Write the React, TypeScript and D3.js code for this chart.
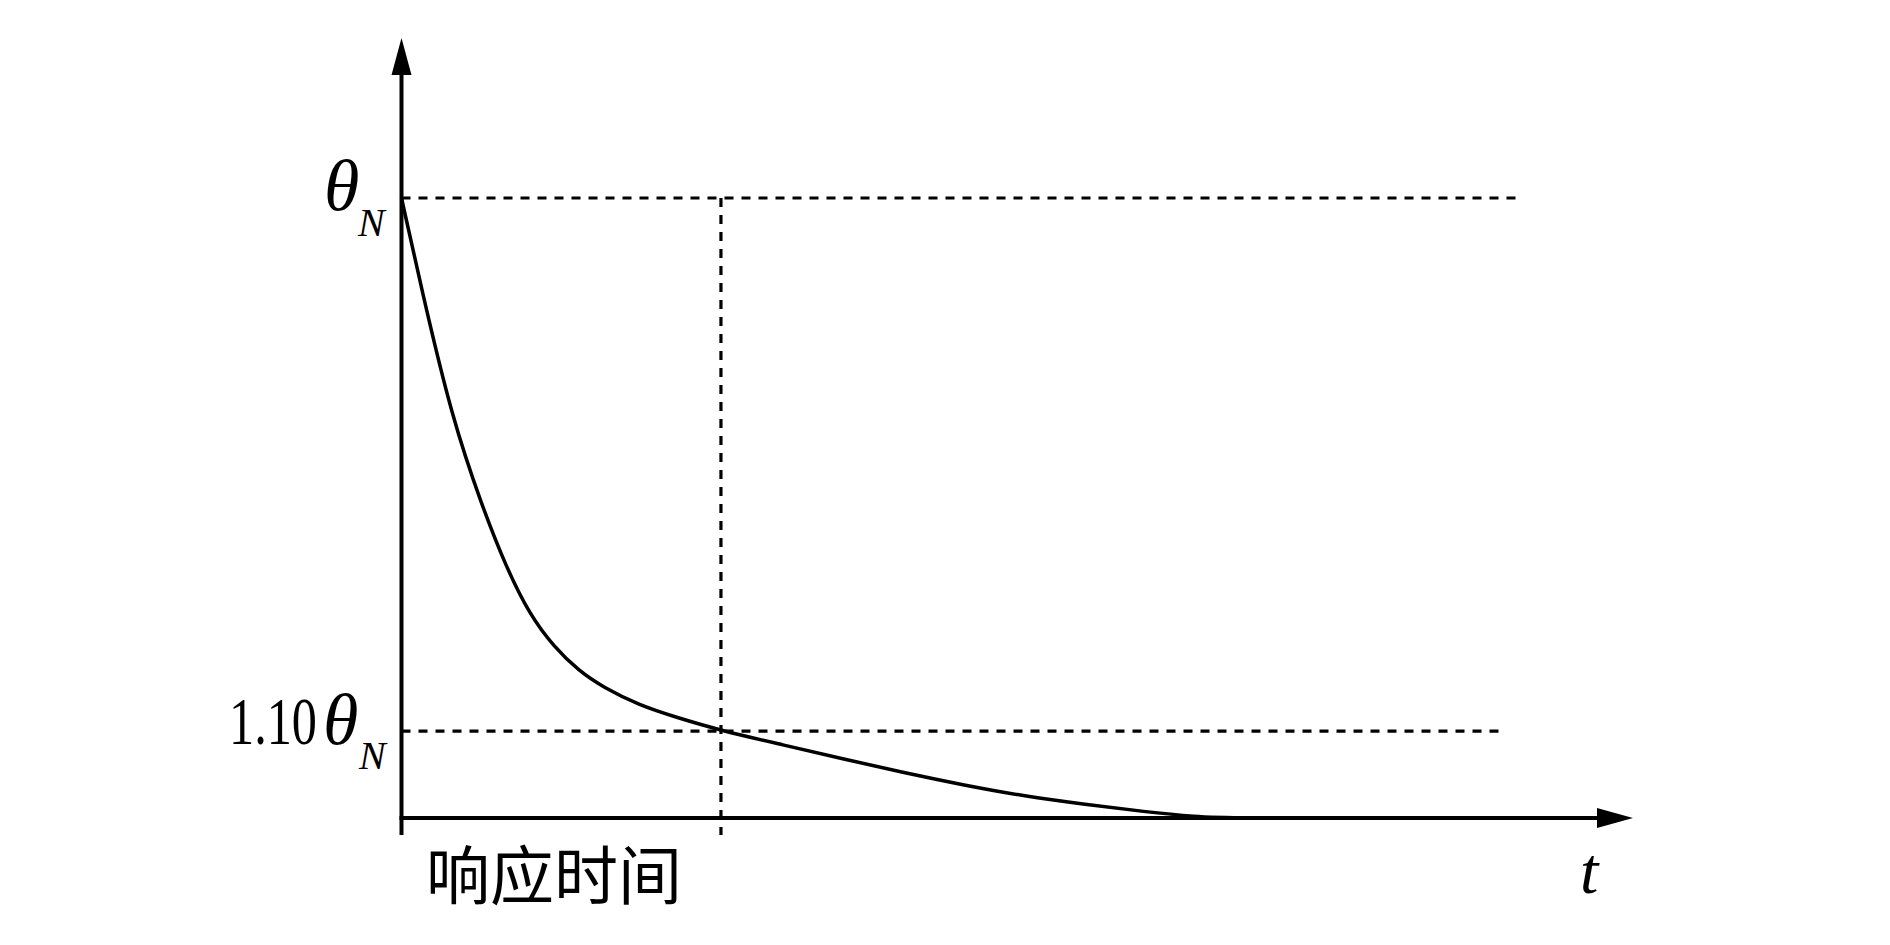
import * as d3 from 'd3';

// curve: time (arbitrary units) vs. level (0 = axis, 1 = θN line)
const curveT = [0, 1.66, 4.1, 6.54, 8.49, 10.43, 12.38, 14.41, 16.36, 19.29, 22.21, 25.94, 30.98, 35.93, 40.8, 45.68, 50.63, 55.5, 60.37, 64.5, 67.5, 80, 94.9];
const curveV = [1.0, 0.85, 0.645, 0.503, 0.405, 0.327, 0.276, 0.237, 0.211, 0.182, 0.163, 0.141, 0.118, 0.095, 0.073, 0.053, 0.035, 0.022, 0.01, 0.002, 0, 0, 0];

const levelNames = ['θN', '1.10θN'];
const levelValues = [1.0, 0.14];
const levelEnds = [90.6, 89.6];
const responseTime = 25.94;

const W = 1890;
const H = 945;
const serif = '"Liberation Serif", "Times New Roman", serif';

export default function App() {
  const x = d3.scaleLinear().domain([0, 100]).range([401.5, 1633]);
  const y = d3.scaleLinear().domain([0, 1]).range([818, 198]);

  const pts = curveT.map((t, i) => [x(t), y(curveV[i])] as [number, number]);
  const line = d3.line().curve(d3.curveBasis)(pts) || '';

  const x0 = x(0);
  const y0 = y(0);
  const xEnd = x.range()[1];
  const yTop = 38;
  const dash = '9,8';

  return (
    <svg width={W} height={H} style={{ position: 'absolute', left: 0, top: 0, background: '#fff' }}>
      {/* reference dashed lines */}
      {levelValues.map((v, i) => (
        <line key={levelNames[i]} x1={x0} x2={x(levelEnds[i])} y1={y(v)} y2={y(v)}
          stroke="#000" strokeWidth={3.2} strokeDasharray={dash} />
      ))}
      <line x1={x(responseTime)} x2={x(responseTime)} y1={y(1)} y2={y0 + 17}
        stroke="#000" strokeWidth={3.2} strokeDasharray={dash} />

      {/* curve */}
      <path d={line} fill="none" stroke="#000" strokeWidth={3.5} />

      {/* axes */}
      <line x1={x0} x2={x0} y1={y0 + 17} y2={yTop + 30} stroke="#000" strokeWidth={4} />
      <polygon points={`${x0},${yTop} ${x0 - 10},${yTop + 37} ${x0 + 10},${yTop + 37}`} fill="#000" />
      <line x1={x0 - 2} x2={xEnd - 30} y1={y0} y2={y0} stroke="#000" strokeWidth={4} />
      <polygon points={`${xEnd},${y0} ${xEnd - 36},${y0 - 10} ${xEnd - 36},${y0 + 10}`} fill="#000" />

      {/* labels */}
      <text x={324} y={210} fontFamily={serif} fontStyle="italic" fontSize={72}>θ</text>
      <text x={358} y={236} fontFamily={serif} fontStyle="italic" fontSize={40}>N</text>

      <text x={229} y={744} fontFamily={serif} fontSize={68} textLength={88} lengthAdjust="spacingAndGlyphs">1.10</text>
      <text x={323} y={744} fontFamily={serif} fontStyle="italic" fontSize={72}>θ</text>
      <text x={359} y={769} fontFamily={serif} fontStyle="italic" fontSize={40}>N</text>

      <text x={426} y={899} fontFamily={'"Noto Sans CJK SC", sans-serif'} fontSize={64}>响应时间</text>
      <text x={1580} y={893} fontFamily={serif} fontStyle="italic" fontSize={66}>t</text>
    </svg>
  );
}
